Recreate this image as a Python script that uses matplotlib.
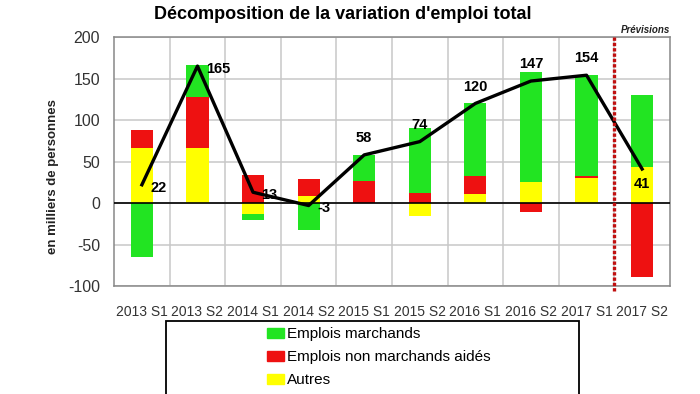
import numpy as np
import matplotlib
matplotlib.use("Agg")
import matplotlib.pyplot as plt
from matplotlib.patches import Rectangle
from matplotlib.lines import Line2D

plt.rcParams['font.family'] = ['Liberation Sans', 'DejaVu Sans']
plt.rcParams['axes.unicode_minus'] = False

# ==========================================================
# Data (milliers de personnes)
# ==========================================================

periods = ['2013 S1', '2013 S2', '2014 S1', '2014 S2', '2015 S1',
           '2015 S2', '2016 S1', '2016 S2', '2017 S1', '2017 S2']

autres = [66, 66, -13, 8, 0, -16, 11, 25, 30, 43]
non_marchands = [22, 62, 34, 21, 27, 12, 21, -11, 2, -89]
marchands = [-65, 38, -8, -32, 31, 78, 89, 133, 122, 87]

total = [22, 165, 13, -3, 58, 74, 120, 147, 154, 41]

# label placement: 'r' right of point, 'a' above, 'b' below
label_pos = ['r', 'r', 'r', 'r', 'a', 'a', 'a', 'a', 'a', 'b']

# ==========================================================
# Figure
# ==========================================================

fig = plt.figure(figsize=(7, 3.94), dpi=100)
ax = fig.add_axes([0.163, 0.274, 0.794, 0.632])

x = np.arange(len(periods))
width = 0.4

green = '#22e422'
red = '#ee1111'
yellow = '#ffff00'

# stacked bars, positives and negatives stacked separately
pos_base = np.zeros(len(periods))
neg_base = np.zeros(len(periods))
for values, color in [(autres, yellow), (non_marchands, red), (marchands, green)]:
    v = np.array(values, dtype=float)
    base = np.where(v >= 0, pos_base, neg_base)
    ax.bar(x, v, width, bottom=base, color=color, zorder=2)
    pos_base = pos_base + np.where(v >= 0, v, 0)
    neg_base = neg_base + np.where(v < 0, v, 0)

# total line
ax.plot(x, total, color='black', linewidth=2.4, zorder=4)

for xi, yi, pos in zip(x, total, label_pos):
    if pos == 'r':
        ax.annotate(str(yi), (xi, yi), xytext=(6, -2), textcoords='offset points',
                    ha='left', va='center', fontsize=10.5, fontweight='bold', zorder=5)
    elif pos == 'a':
        ax.annotate(str(yi), (xi, yi), xytext=(0, 7), textcoords='offset points',
                    ha='center', va='bottom', fontsize=10.5, fontweight='bold', zorder=5)
    else:
        ax.annotate(str(yi), (xi, yi), xytext=(0, -6), textcoords='offset points',
                    ha='center', va='top', fontsize=10.5, fontweight='bold', zorder=5)

# zero line
ax.axhline(0, color='black', linewidth=1.2, zorder=3)

# forecast separator
ax.plot([8.5, 8.5], [200, -108], color='#c01010', linestyle=(0, (1, 0.6)),
        linewidth=2.4, clip_on=False, zorder=5)
ax.text(9.5, 203, 'Prévisions', ha='right', va='bottom', fontsize=7,
        fontweight='bold', fontstyle='italic', color='#222222')

# ==========================================================
# Axes formatting
# ==========================================================

ax.set_xlim(-0.5, len(periods) - 0.5)
ax.set_ylim(-100, 200)
ax.set_yticks(np.arange(-100, 201, 50))
ax.set_xticks(x)
ax.set_xticklabels(periods)
ax.set_xticks(np.arange(0.5, len(periods) - 1, 1), minor=True)
ax.tick_params(axis='both', which='both', length=0, colors='#333333')
ax.tick_params(axis='y', pad=10, labelsize=11.5)
ax.tick_params(axis='x', pad=14, labelsize=10)

ax.grid(True, axis='y', color='#c8c8c8', linewidth=1.1, zorder=0)
ax.grid(True, axis='x', which='minor', color='#c8c8c8', linewidth=1.1, zorder=0)
ax.set_axisbelow(True)
for spine in ax.spines.values():
    spine.set_color('#888888')
    spine.set_linewidth(1.1)

ax.set_ylabel('en milliers de personnes', fontsize=9.5, fontweight='bold',
              color='#222222')
ax.yaxis.set_label_coords(-0.1, 0.44)

fig.text(0.49, 0.964, "Décomposition de la variation d'emploi total",
         ha='center', va='center', fontsize=13, fontweight='bold')

# ==========================================================
# Legend (box partly cut by the figure edge)
# ==========================================================

fig.patches.append(Rectangle((166 / 700, -0.2), 413 / 700, 0.2 + 1 - 321 / 394,
                             transform=fig.transFigure, fill=False,
                             edgecolor='black', linewidth=1.3))

handles = [
    Rectangle((0, 0), 1, 1, color=green),
    Rectangle((0, 0), 1, 1, color=red),
    Rectangle((0, 0), 1, 1, color=yellow),
    Line2D([0], [0], color='black', linewidth=2.4),
]
labels = ['Emplois marchands', 'Emplois non marchands aidés', 'Autres',
          'Emploi total']
fig.legend(handles, labels, loc='upper left',
           bbox_to_anchor=(261 / 700, 1 - 321 / 394), frameon=False,
           fontsize=11, handlelength=1.1, handleheight=0.6,
           handletextpad=0.2, labelspacing=0.6, borderaxespad=0)

fig.savefig('out.png', dpi=100)
